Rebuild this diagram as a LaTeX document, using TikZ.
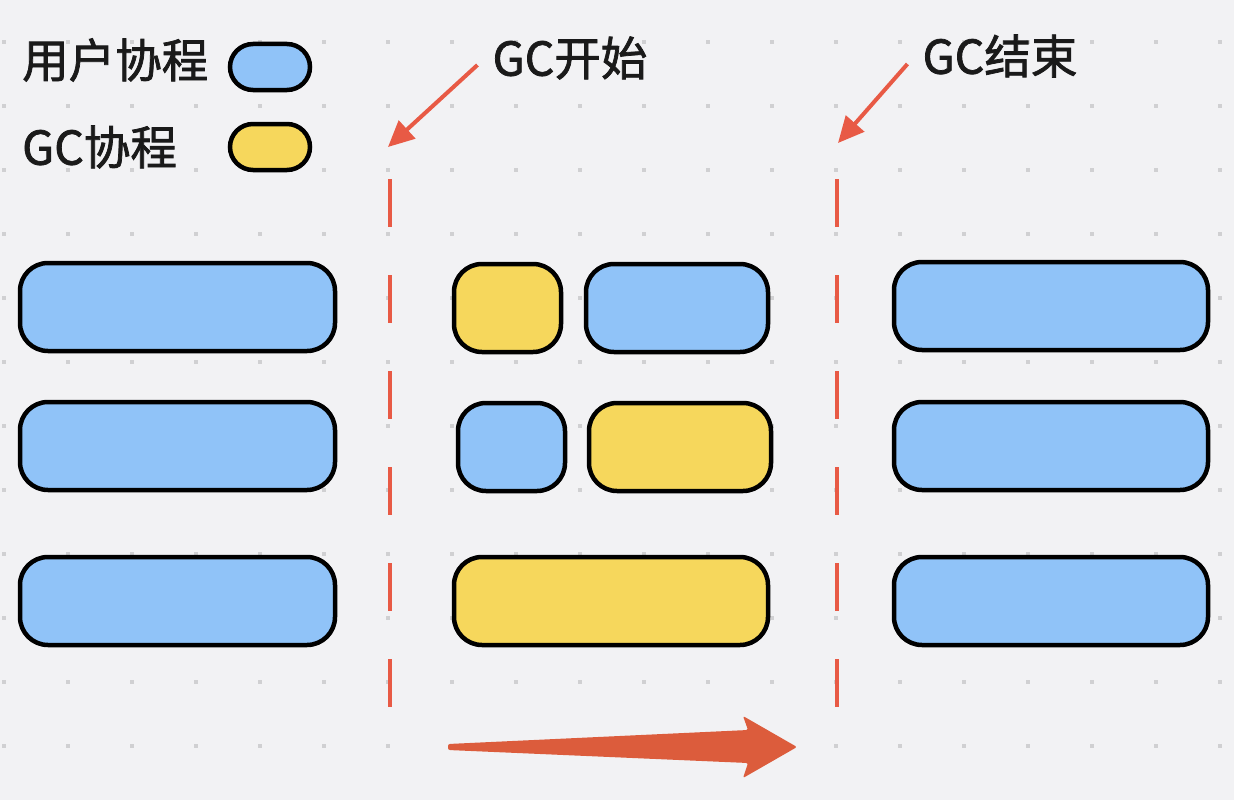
\documentclass[tikz,border=0pt]{standalone}
\usepackage{fontspec}
\setmainfont{Noto Sans CJK SC}
\newfontfamily\labelfont{Noto Sans CJK SC}[FakeBold=1.6]
\usetikzlibrary{arrows.meta}
\definecolor{bgcol}{HTML}{F2F2F4}
\definecolor{dotcol}{HTML}{D0D0D2}
\definecolor{userblue}{HTML}{90C3F8}
\definecolor{gcyellow}{HTML}{F6D75C}
\definecolor{linered}{HTML}{E85A45}
\definecolor{bigred}{HTML}{DC5C3C}
\definecolor{textcol}{HTML}{1A1A1A}
\begin{document}
\begin{tikzpicture}[x=1pt,y=-1pt,
    lane/.style={draw=black,line width=4.5pt,rounded corners=28pt,anchor=north west,inner sep=0pt,outer sep=0pt,minimum height=88pt},
    user/.style={lane,fill=userblue},
    gc/.style={lane,fill=gcyellow},
    pill/.style={draw=black,line width=4.5pt,rounded corners=23pt,anchor=north west,outer sep=0pt,minimum width=80pt,minimum height=46pt},
    label/.style={font=\labelfont\fontsize{46.5}{50}\selectfont,text=textcol,inner sep=0pt},
    pointer/.style={draw=linered,line width=4pt,-{Triangle[length=26pt,width=24pt]}},
    cut/.style={draw=linered,line width=4pt,dash pattern=on 48pt off 48pt}]
    \useasboundingbox (0,0) rectangle (1234,800);
    \fill[bgcol] (0,0) rectangle (1234,800);
    % dot grid
    \foreach \i in {0,...,19}
        \foreach \j in {0,...,11}
            \fill[dotcol] (2+64*\i,40+64*\j) rectangle ++(4,4);
    % legend
    \node[label,anchor=west] (userlbl) at (22,60) {用户协程};
    \node[label,anchor=west] (gclbl) at (22,147) {GC协程};
    \node[pill,fill=userblue] (userkey) at (230,44) {};
    \node[pill,fill=gcyellow] (gckey) at (230,124) {};
    % phase markers
    \coordinate (cutA top) at (390,179);
    \coordinate (cutA bot) at (390,707);
    \coordinate (cutB top) at (837,179);
    \coordinate (cutB bot) at (837,707);
    \draw[cut] (cutA top) -- (cutA bot);
    \draw[cut] (cutB top) -- (cutB bot);
    \node[label] (gcstart) at (570,58) {GC开始};
    \node[label] (gcend) at (1000,56) {GC结束};
    \coordinate (gcstart tip) at (388,147);
    \coordinate (gcend tip) at (838,143);
    \draw[pointer] ([xshift=-15pt,yshift=-7pt]gcstart.west) -- (gcstart tip);
    \draw[pointer] ([xshift=-15pt,yshift=-8pt]gcend.west) -- (gcend tip);
    % before GC
    \node[user,minimum width=315pt] (pre1) at (20,263) {};
    \node[user,minimum width=315pt] (pre2) at (20,402) {};
    \node[user,minimum width=315pt] (pre3) at (20,557) {};
    % during GC
    \node[gc,minimum width=107pt] (mid1a) at (454,264) {};
    \node[user,minimum width=182pt] (mid1b) at (586,264) {};
    \node[user,minimum width=107pt] (mid2a) at (458,403) {};
    \node[gc,minimum width=182pt] (mid2b) at (589,403) {};
    \node[gc,minimum width=314pt] (mid3) at (454,557) {};
    % after GC
    \node[user,minimum width=314pt] (post1) at (894,262) {};
    \node[user,minimum width=314pt] (post2) at (894,402) {};
    \node[user,minimum width=314pt] (post3) at (894,557) {};
    % time arrow
    \fill[bigred,rounded corners=2pt] (448,744) -- (748,730) -- (743,716) -- (797,747)
        -- (743,778) -- (748,763) -- (448,750) -- cycle;
\end{tikzpicture}
\end{document}
